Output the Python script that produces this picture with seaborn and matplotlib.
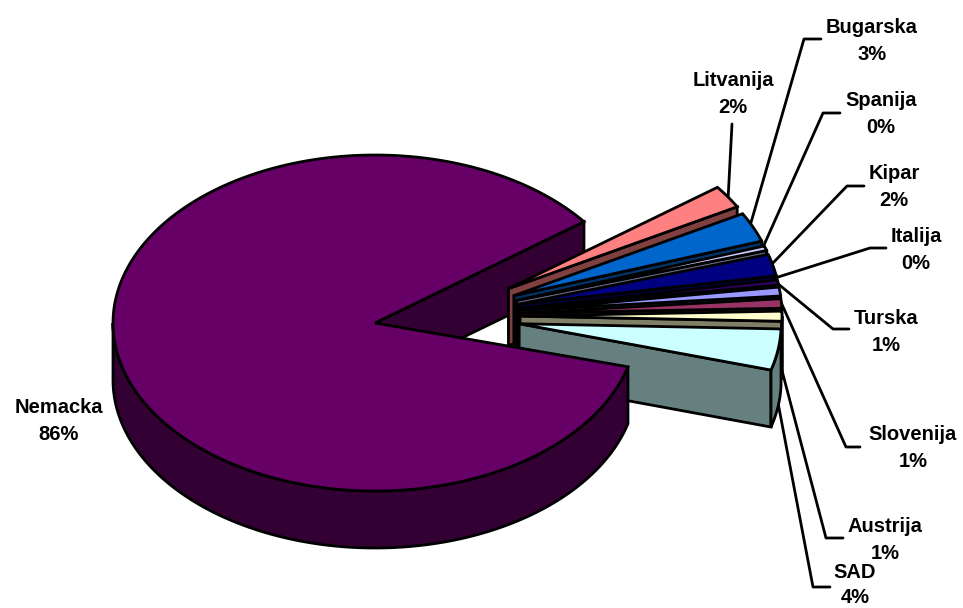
import numpy as np
import matplotlib
matplotlib.use("Agg")
import matplotlib.pyplot as plt
import seaborn as sns

countries = ["Litvanija", "Bugarska", "Spanija", "Kipar", "Italija",
             "Turska", "Slovenija", "Austrija", "SAD"]
shares = [2.2, 2.85, 0.45, 2.1, 0.49, 0.85, 0.9, 0.96, 3.95]
main_country = "Nemacka"
main_share = 85.5

top_colors = ["#FF8080", "#0066CC", "#CCCCFF", "#000080", "#330066",
              "#9999FF", "#993366", "#FFFFCC", "#CCFFFF"]
main_color = "#660066"

label_pos = [(733, 94), (872, 41), (881, 114), (894, 187), (916, 250),
             (886, 332), (913, 448), (885, 540), (855, 585)]
main_label_pos = (59, 421)

# leader lines: end by the label, elbow, end under the slice
leader_out = [(732, 124), (821, 39), (840, 113), (864, 186), (886, 248),
              (849, 329), (860, 447), (843, 538), (830, 587)]
leader_elbow = [(732, 124), (804, 39), (823, 113), (847, 186), (870, 248),
                (833, 329), (846, 447), (826, 538), (813, 587)]
leader_in = [(728, 200), (750, 226), (764, 245), (772, 264), (775, 278),
             (777, 283), (780, 300), (780, 363), (775, 387)]

# pie geometry in pixels
CX, CY = 375, 323
RX, RY = 262, 168
DEPTH = 57
START = 37.1
LW = 2.0

sns.set_theme(style="white")
plt.rcParams["font.family"] = ["Liberation Sans", "DejaVu Sans"]

fig = plt.figure(figsize=(9.63, 6.08), dpi=100)
ax = fig.add_axes([0, 0, 1, 1])
ax.set_xlim(0, 963)
ax.set_ylim(608, 0)
ax.axis("off")


def darker(color):
    r, g, b = matplotlib.colors.to_rgb(color)
    return (r * 0.5, g * 0.5, b * 0.5)


def rim(x0, y0, t):
    t = np.radians(t)
    return x0 + RX * np.cos(t), y0 - RY * np.sin(t)


def poly(xs, ys, color, z):
    ax.fill(xs, ys, facecolor=color, edgecolor="black", lw=LW, zorder=z,
            joinstyle="miter")


def draw_top(x0, y0, t1, t2, color, z):
    t = np.linspace(t1, t2, 200)
    xs, ys = rim(x0, y0, t)
    poly(np.r_[x0, xs], np.r_[y0, ys], color, z)


def draw_face(x0, y0, t, color, z):
    x1, y1 = rim(x0, y0, t)
    poly([x0, x1, x1, x0], [y0, y1, y1 + DEPTH, y0 + DEPTH], color, z)


def draw_side(x0, y0, t1, t2, color, z):
    t = np.linspace(t1, t2, 200)
    xs, ys = rim(x0, y0, t)
    poly(np.r_[xs, xs[::-1]], np.r_[ys, ys[::-1] + DEPTH], color, z)


for p, e, q in zip(leader_out, leader_elbow, leader_in):
    ax.plot([p[0], e[0], q[0]], [p[1], e[1], q[1]], color="black", lw=LW, zorder=1)

# big slice: back face first, the top has to sit over the exploded group
main_end = START + main_share * 3.6
draw_face(CX, CY, START, darker(main_color), 2)

t = START
z = 3
for share, color in zip(shares, top_colors):
    t_end = t - share * 3.6
    mid = np.radians((t + t_end) / 2)
    x0 = CX + 74 + 71 * np.cos(mid)
    y0 = CY - 7 - 50 * np.sin(mid)
    draw_face(x0, y0, t_end, darker(color), z)
    if t_end < 0:
        draw_side(x0, y0, min(t, 0), t_end, darker(color), z + 1)
    draw_top(x0, y0, t, t_end, color, z + 2)
    t = t_end
    z += 3

draw_side(CX, CY, 180, main_end, darker(main_color), z)
draw_top(CX, CY, START, main_end, main_color, z + 1)

for name, share, pos in zip(countries, shares, label_pos):
    ax.text(pos[0], pos[1], f"{name}\n{share:.0f}%", ha="center", va="center",
            fontsize=14.5, fontweight="bold", color="black", linespacing=1.4 if name == "SAD" else 1.5,
            zorder=z + 2)
ax.text(main_label_pos[0], main_label_pos[1], f"{main_country}\n{main_share:.0f}%",
        ha="center", va="center", fontsize=14.5, fontweight="bold", color="black",
        linespacing=1.5, zorder=z + 2)

fig.savefig("out.png", dpi=100, facecolor="white")
